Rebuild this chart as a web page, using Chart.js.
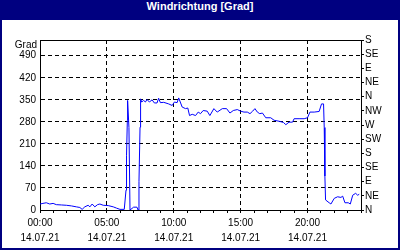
<!DOCTYPE html>
<html>
<head>
<meta charset="utf-8">
<script src="https://cdn.jsdelivr.net/npm/chart.js@4"></script>
<style>
  body { margin: 0; }
  #frame { position: relative; width: 400px; height: 250px; background: #000080; }
  #title { height: 20px; line-height: 17px; color: #fff; text-align: center;
           font: bold 11px 'Liberation Sans', Arial, sans-serif; }
  #box { position: absolute; left: 2px; top: 20px; width: 396px; height: 228px; background: #fff; }
</style>
</head>
<body>
<div id="frame">
  <div id="title">Windrichtung [Grad]</div>
  <div id="box"><canvas id="windChart"></canvas></div>
</div>
<script>
// Messzeit in Stunden (14.07.21) und Windrichtung in Grad
const stunden = [0, 0.22, 0.47, 0.73, 0.98, 1.22, 1.6, 1.97, 2.35, 2.72, 2.98, 3.15, 3.35, 3.6, 3.73, 3.9,
  4.1, 4.3, 4.48, 4.73, 5.1, 5.48, 5.72, 5.98, 6.3, 6.43, 6.47, 6.53, 6.55, 6.65, 6.73, 7.0,
  7.25, 7.33, 7.4, 7.48, 7.52, 7.6, 7.75, 7.88, 8.0, 8.18, 8.38, 8.55, 8.75, 8.87, 9.0, 9.25,
  9.62, 9.88, 10.05, 10.25, 10.37, 10.63, 10.88, 11.05, 11.18, 11.38, 11.63, 11.83, 12.0, 12.2,
  12.5, 12.7, 13.0, 13.25, 13.63, 13.95, 14.2, 14.45, 14.75, 15.0, 15.25, 15.5, 15.7, 15.9,
  16.07, 16.25, 16.43, 16.63, 16.88, 17.25, 17.5, 17.87, 18.2, 18.38, 18.62, 18.88, 19.0, 19.37,
  19.75, 20.0, 20.18, 20.5, 20.87, 21.05, 21.2, 21.25, 21.3, 21.35, 21.62, 21.75, 22.0, 22.25,
  22.5, 22.63, 22.8, 23.05, 23.2, 23.38, 23.6, 23.75, 23.87];
const grad = [19, 21, 23, 19, 21, 17, 16, 15, 13, 10, 8, 2, 10, 15, 10, 19,
  10, 17, 19, 15, 14, 10, 6, 2, 2, 63, 174, 285, 348, 262, 0, 9,
  9, 0, 90, 263, 353, 343, 348, 343, 351, 343, 350, 340, 340, 355, 341, 342,
  337, 332, 343, 341, 356, 327, 322, 324, 300, 304, 300, 311, 306, 316,
  314, 300, 322, 311, 322, 322, 308, 316, 319, 314, 311, 311, 306, 314,
  322, 311, 306, 308, 293, 293, 285, 282, 278, 271, 279, 279, 290, 290,
  290, 293, 311, 311, 313, 337, 337, 262, 108, 32, 23, 19, 37, 42,
  40, 44, 23, 23, 19, 47, 53, 47, 50];

const zeitLabels = ['00:00', '05:00', '10:00', '15:00', '20:00'];
const datum = '14.07.21';
const richtungen = ['N', 'NE', 'E', 'SE', 'S', 'SW', 'W', 'NW'];

Chart.defaults.font.family = "'Liberation Sans', Arial, sans-serif";
Chart.defaults.font.size = 10;
Chart.defaults.color = '#000';

// Rahmen oben + "Grad" Beschriftung
const rahmen = {
  id: 'rahmen',
  afterDraw(chart) {
    const ctx = chart.ctx, a = chart.chartArea;
    ctx.save();
    ctx.strokeStyle = '#000';
    ctx.lineWidth = 1;
    ctx.beginPath();
    ctx.moveTo(a.left, a.top + 0.5);
    ctx.lineTo(a.right + 1, a.top + 0.5);
    ctx.stroke();
    ctx.fillStyle = '#000';
    ctx.font = "10px 'Liberation Sans', Arial, sans-serif";
    ctx.textAlign = 'right';
    ctx.textBaseline = 'middle';
    ctx.fillText('Grad', a.left - 3, a.top + 5);
    ctx.restore();
  }
};

const ctx = document.getElementById('windChart');
new Chart(ctx, {
  type: 'line',
  data: {
    datasets: [{
      data: stunden.map((h, i) => ({ x: h, y: grad[i] })),
      borderColor: '#0000ff',
      borderWidth: 1,
      pointRadius: 0,
      tension: 0,
      fill: false
    }]
  },
  options: {
    responsive: true,
    maintainAspectRatio: false,
    animation: false,
    layout: { padding: { top: 20, left: 0, right: 0, bottom: 0 } },
    plugins: { legend: { display: false }, tooltip: { enabled: false } },
    scales: {
      x: {
        type: 'linear',
        min: 0,
        max: 24,
        afterFit: (s) => { s.height = 38; },
        ticks: {
          stepSize: 1,
          autoSkip: false,
          maxRotation: 0,
          padding: 3,
          font: { lineHeight: 1.5 },
          callback: (v) => (v % 5 === 0 && v < 24) ? [zeitLabels[v / 5], datum] : ''
        },
        grid: {
          color: (c) => (c.tick && c.tick.value % 5 === 0 && c.tick.value > 0 && c.tick.value < 24) ? '#000' : 'rgba(0,0,0,0)',
          tickColor: '#000',
          tickLength: 3,
          drawTicks: true
        },
        border: { color: '#000', dash: [4, 3] }
      },
      y: {
        position: 'left',
        min: 0,
        max: 540,
        afterFit: (s) => { s.width = 38; },
        ticks: {
          stepSize: 70,
          padding: 4,
          autoSkip: false,
          callback: (v) => v % 70 === 0 ? v : ''
        },
        grid: {
          color: (c) => (c.tick && c.tick.value > 0 && c.tick.value < 540) ? '#000' : 'rgba(0,0,0,0)',
          drawTicks: false
        },
        border: { color: '#000', dash: [4, 3] }
      },
      y2: {
        position: 'right',
        min: 0,
        max: 540,
        afterFit: (s) => { s.width = 37; },
        ticks: {
          stepSize: 45,
          padding: 1,
          autoSkip: false,
          callback: (v) => richtungen[(v / 45) % 8]
        },
        grid: {
          drawOnChartArea: false,
          tickColor: '#000',
          tickLength: 3
        },
        border: { color: '#000' }
      }
    }
  },
  plugins: [rahmen]
});
</script>
</body>
</html>
